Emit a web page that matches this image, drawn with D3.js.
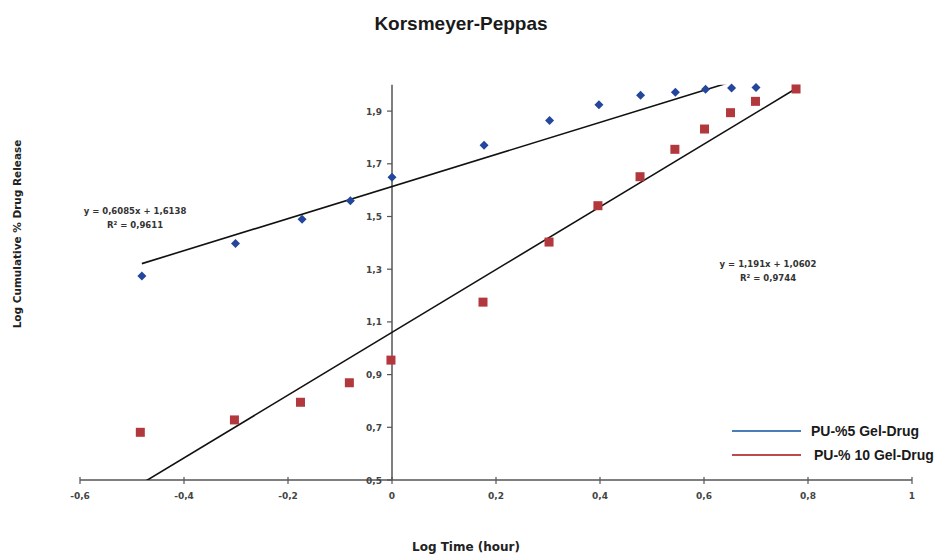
<!DOCTYPE html>
<html><head><meta charset="utf-8">
<script src="https://cdn.jsdelivr.net/npm/d3@7"></script>
<style>
body{margin:0;background:#fff;}
svg{display:block;font-family:"Liberation Sans",Arial,sans-serif;}
</style></head>
<body><svg id="c" width="948" height="557"></svg>
<script>
// Data (log time in hours, log cumulative % released)
const seriesNames = ["PU-%5 Gel-Drug", "PU-% 10 Gel-Drug"];
const xBlue = [-0.481, -0.301, -0.173, -0.080, 0.000, 0.177, 0.303, 0.398, 0.478, 0.545, 0.603, 0.653, 0.700];
const yBlue = [1.274, 1.398, 1.490, 1.560, 1.649, 1.770, 1.864, 1.924, 1.960, 1.972, 1.983, 1.988, 1.990];
const xRed = [-0.484, -0.303, -0.176, -0.082, -0.002, 0.175, 0.302, 0.396, 0.477, 0.544, 0.601, 0.651, 0.699, 0.777];
const yRed = [0.681, 0.728, 0.795, 0.869, 0.955, 1.175, 1.403, 1.541, 1.651, 1.755, 1.832, 1.894, 1.937, 1.984];
const fitBlue = {slope: 0.6085, intercept: 1.6138, label: "y = 0,6085x + 1,6138", r2: "R² = 0,9611"};
const fitRed = {slope: 1.191, intercept: 1.0602, label: "y = 1,191x + 1,0602", r2: "R² = 0,9744"};
const xTicks = [-0.6, -0.4, -0.2, 0, 0.2, 0.4, 0.6, 0.8, 1];
const yTicks = [0.5, 0.7, 0.9, 1.1, 1.3, 1.5, 1.7, 1.9];
const title = "Korsmeyer-Peppas";
const xTitle = "Log Time (hour)";
const yTitle = "Log Cumulative % Drug Release";

const svg = d3.select("#c");
const x = d3.scaleLinear().domain([-0.6, 1]).range([80, 912]);
const y = d3.scaleLinear().domain([0.5, 2.0]).range([480, 84.75]);
const fmt = v => (Math.round(v*10)/10).toString().replace(".", ",");
const wide = "'DejaVu Sans',Verdana,sans-serif";

svg.append("defs").append("clipPath").attr("id","pa").append("rect")
  .attr("x", x(-0.6)).attr("y", y(2.0)).attr("width", x(1)-x(-0.6)).attr("height", y(0.5)-y(2.0));

// Title
svg.append("text").attr("x", 461).attr("y", 30).attr("text-anchor","middle")
  .style("font-family","'Liberation Sans Narrow','Liberation Sans',Arial").style("font-weight","bold")
  .style("font-size","19px").attr("fill","#1a1a1a").text(title);

// Axes
const axisColor = "#555";
const xAxis = svg.append("g").attr("transform", `translate(0,${y(0.5)})`);
xAxis.append("line").attr("x1", x(-0.6)).attr("x2", x(1)).attr("stroke", axisColor).attr("stroke-width",1.5);
xAxis.selectAll("line.t").data(xTicks).join("line").attr("class","t")
  .attr("x1", d=>x(d)).attr("x2", d=>x(d)).attr("y1",-3).attr("y2",4).attr("stroke",axisColor).attr("stroke-width",1.2);
xAxis.selectAll("text").data(xTicks).join("text")
  .attr("x", d=>x(d)).attr("y", 19).attr("text-anchor","middle")
  .style("font-family", wide).style("font-size","9px").style("font-weight","bold").attr("fill","#444")
  .text(d => fmt(d));

const yAxis = svg.append("g").attr("transform", `translate(${x(0)},0)`);
yAxis.append("line").attr("y1", y(0.5)).attr("y2", y(2.0)).attr("stroke", axisColor).attr("stroke-width",1.5);
yAxis.selectAll("line.t").data(yTicks).join("line").attr("class","t")
  .attr("y1", d=>y(d)).attr("y2", d=>y(d)).attr("x1",-5).attr("x2",0).attr("stroke",axisColor).attr("stroke-width",1.2);
yAxis.selectAll("text").data(yTicks).join("text")
  .attr("x", -10).attr("y", d=>y(d)+3.5).attr("text-anchor","end")
  .style("font-family", wide).style("font-size","9px").style("font-weight","bold").attr("fill","#444")
  .text(d => fmt(d));

// Axis titles
svg.append("text").attr("x", 466).attr("y", 551).attr("text-anchor","middle")
  .style("font-family", wide).style("font-size","12px").style("font-weight","bold").attr("fill","#222").text(xTitle);
svg.append("text").attr("transform","translate(21,234) rotate(-90)").attr("text-anchor","middle")
  .style("font-family", wide).style("font-size","10.5px").style("font-weight","bold").attr("fill","#222").text(yTitle);

// Trend lines
const plot = svg.append("g").attr("clip-path","url(#pa)");
function trend(xs, f){
  const x0 = d3.min(xs), x1 = d3.max(xs);
  plot.append("line").attr("x1", x(x0)).attr("y1", y(f.slope*x0+f.intercept))
    .attr("x2", x(x1)).attr("y2", y(f.slope*x1+f.intercept))
    .attr("stroke","#111").attr("stroke-width",1.6);
}
trend(xBlue, fitBlue);
trend(xRed, fitRed);

// Markers
const blueMarker = "#24469c", redMarker = "#b3383d";
svg.append("g").selectAll("path").data(d3.zip(xBlue,yBlue)).join("path")
  .attr("transform", d=>`translate(${x(d[0])},${y(d[1])})`)
  .attr("d","M0,-4.5L4.5,0L0,4.5L-4.5,0Z").attr("fill", blueMarker);
svg.append("g").selectAll("rect").data(d3.zip(xRed,yRed)).join("rect")
  .attr("x", d=>x(d[0])-4.5).attr("y", d=>y(d[1])-4.5).attr("width",9).attr("height",9)
  .attr("fill", redMarker);

// Equation labels
function eq(f, cx, cy){
  const g = svg.append("g").style("font-family", wide).style("font-size","8.5px").style("font-weight","bold")
    .attr("fill","#333").attr("text-anchor","middle");
  g.append("text").attr("x",cx).attr("y",cy).text(f.label);
  g.append("text").attr("x",cx).attr("y",cy+14).text(f.r2);
}
eq(fitBlue, 135, 214);
eq(fitRed, 768, 267);

// Legend
const legColors = ["#4a7ebb", "#be4b48"];
const leg = svg.append("g");
seriesNames.forEach((n,i)=>{
  const ly = 431 + i*24;
  leg.append("line").attr("x1",732).attr("x2",801).attr("y1",ly).attr("y2",ly)
    .attr("stroke",legColors[i]).attr("stroke-width",2.2);
  leg.append("text").attr("x", 811 + i*3).attr("y", ly+5)
    .style("font-size","14px").style("font-weight","bold").attr("fill","#1a1a1a").text(n);
});
</script></body></html>
